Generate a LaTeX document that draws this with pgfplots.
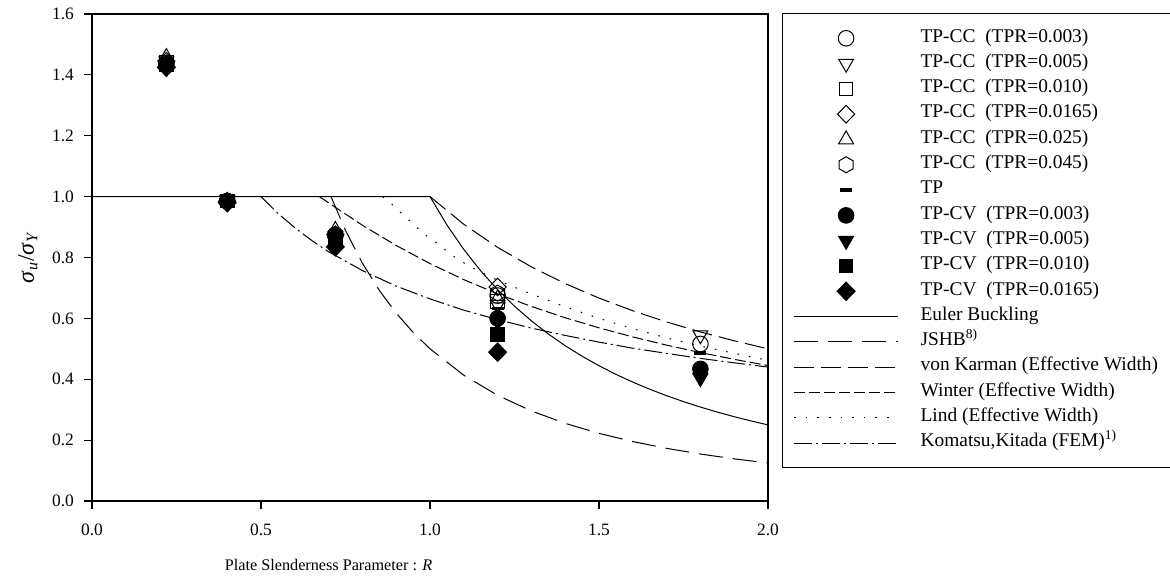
\documentclass[border=0pt]{standalone}
\usepackage{fontspec}
\setmainfont{Liberation Serif}
\usepackage{pgfplots}
\pgfplotsset{compat=1.18}
\usetikzlibrary{plotmarks}

\pgfdeclareplotmark{hexagon}{%
  \pgfpathmoveto{\pgfpointpolar{90}{\pgfplotmarksize}}%
  \pgfpathlineto{\pgfpointpolar{150}{\pgfplotmarksize}}%
  \pgfpathlineto{\pgfpointpolar{210}{\pgfplotmarksize}}%
  \pgfpathlineto{\pgfpointpolar{270}{\pgfplotmarksize}}%
  \pgfpathlineto{\pgfpointpolar{330}{\pgfplotmarksize}}%
  \pgfpathlineto{\pgfpointpolar{30}{\pgfplotmarksize}}%
  \pgfpathclose
  \pgfusepathqstroke
}

\begin{document}
\begin{tikzpicture}
\begin{axis}[
  name=ax,
  at={(0,0)}, anchor=south west,
  scale only axis, width=338pt, height=243.5pt,
  xmin=0, xmax=2, ymin=0, ymax=1.6,
  xtick={0,0.5,1,1.5,2},
  ytick={0,0.2,0.4,0.6,0.8,1.0,1.2,1.4,1.6},
  xticklabels={0.0,0.5,1.0,1.5,2.0},
  yticklabels={0.0,0.2,0.4,0.6,0.8,1.0,1.2,1.4,1.6},
  tick pos=left, tick align=outside, major tick length=4pt,
  axis line style={line width=0.7pt},
  tick style={line width=0.6pt, black},
  ticklabel style={font=\fontsize{8.7}{10}\selectfont},
  xticklabel style={yshift=-4pt},
  yticklabel style={xshift=-1.5pt},
  xlabel={Plate Slenderness Parameter : \textit{R}},
  xlabel style={at={(axis description cs:0.350,0)}, anchor=center, yshift=-32pt, font=\fontsize{8.1}{9.5}\selectfont},
  ylabel={\textit{σ}\textsubscript{\textit{u}}/\textit{σ}\textsubscript{\textit{Y}}},
  ylabel style={at={(axis description cs:-0.095,0.5)}, anchor=center, font=\fontsize{12}{14}\selectfont},
  legend image code/.code={\draw[mark repeat=2,mark phase=2,#1] plot coordinates {(0pt,0pt) (26pt,0pt) (52pt,0pt)};},
  legend style={at={(1.0207,1.002)}, anchor=north west, draw=black, line width=0.6pt,
    font=\fontsize{9.7}{11}\selectfont, inner xsep=5.5pt, inner ysep=6pt, row sep=0pt,
    nodes={inner sep=0pt, text height=8.2pt, text depth=4.45pt},
    cells={anchor=west},
    /tikz/every odd column/.append style={column sep=11pt}},
  every axis plot/.append style={black, line width=0.5pt},
]
% ---- curves (drawn first, legend entries added later) ----
\addplot[solid, forget plot] coordinates {
(0,1) (1,1) (1.05,0.9070) (1.1,0.8264) (1.15,0.7561) (1.2,0.6944) (1.25,0.64) (1.3,0.5917)
(1.35,0.5487) (1.4,0.5102) (1.45,0.4756) (1.5,0.4444) (1.55,0.4162) (1.6,0.3906) (1.65,0.3673)
(1.7,0.3460) (1.75,0.3265) (1.8,0.3086) (1.85,0.2922) (1.9,0.2770) (1.95,0.2630) (2.0,0.25)};
\addplot[dash pattern=on 12pt off 5pt, forget plot] coordinates {
(0.7071,1.0) (0.75,0.8889) (0.8,0.7813) (0.85,0.6920) (0.9,0.6173) (0.95,0.5540) (1.0,0.5)
(1.1,0.4132) (1.2,0.3472) (1.3,0.2959) (1.4,0.2551) (1.5,0.2222) (1.6,0.1953) (1.7,0.1730)
(1.8,0.1543) (1.9,0.1385) (2.0,0.125)};
\addplot[dash pattern=on 10pt off 3.5pt, forget plot] coordinates {
(1.0,1.0) (1.1,0.9091) (1.2,0.8333) (1.3,0.7692) (1.4,0.7143) (1.5,0.6667) (1.6,0.625)
(1.7,0.5882) (1.8,0.5556) (1.9,0.5263) (2.0,0.5)};
\addplot[dash pattern=on 5.5pt off 2pt, forget plot] coordinates {
(0.673,1.0) (0.7,0.9796) (0.8,0.906) (0.9,0.8395) (1.0,0.78) (1.1,0.7273) (1.2,0.6806)
(1.3,0.6391) (1.4,0.602) (1.5,0.5689) (1.6,0.5391) (1.7,0.5121) (1.8,0.4877) (1.9,0.4654) (2.0,0.445)};
\addplot[dash pattern=on 0.8pt off 5pt, forget plot] coordinates {
(0.86,1.0) (0.88,0.983) (0.916,0.945) (0.98,0.879) (1.015,0.852) (1.064,0.808) (1.118,0.77)
(1.2,0.725) (1.3,0.68) (1.4,0.638) (1.5,0.6) (1.6,0.566) (1.7,0.536) (1.8,0.509) (1.9,0.485) (2.0,0.462)};
\addplot[dash pattern=on 9pt off 2pt on 1pt off 2pt, forget plot] coordinates {
(0.5,1.0) (0.55,0.945) (0.6,0.898) (0.65,0.856) (0.7,0.819) (0.8,0.757) (0.9,0.706) (1.0,0.664)
(1.1,0.627) (1.2,0.596) (1.3,0.568) (1.4,0.544) (1.5,0.522) (1.6,0.502) (1.7,0.485)
(1.8,0.4685) (1.9,0.454) (2.0,0.44)};
% ---- experimental points ----
\addplot[only marks, mark=o, mark size=3.9pt] coordinates {
(0.22,1.44) (0.40,0.985) (0.72,0.875) (1.20,0.675) (1.80,0.516)};
\addlegendentry{TP-CC\ \ (TPR=0.003)}
\addplot[only marks, mark=triangle, mark size=4.3pt, mark options={rotate=180}] coordinates {
(0.22,1.445) (0.40,0.99) (0.72,0.87) (1.20,0.645) (1.80,0.545)};
\addlegendentry{TP-CC\ \ (TPR=0.005)}
\addplot[only marks, mark=square, mark size=3.4pt] coordinates {
(0.22,1.44) (0.40,0.985) (0.72,0.865) (1.20,0.655)};
\addlegendentry{TP-CC\ \ (TPR=0.010)}
\addplot[only marks, mark=diamond, mark size=4.4pt, mark options={xscale=1.3}] coordinates {
(0.22,1.445) (0.40,0.985) (0.72,0.875) (1.20,0.703)};
\addlegendentry{TP-CC\ \ (TPR=0.0165)}
\addplot[only marks, mark=triangle, mark size=4.3pt] coordinates {
(0.22,1.458) (0.72,0.89) (1.20,0.665)};
\addlegendentry{TP-CC\ \ (TPR=0.025)}
\addplot[only marks, mark=hexagon, mark size=4pt] coordinates {
(1.20,0.683)};
\addlegendentry{TP-CC\ \ (TPR=0.045)}
\addplot[only marks, mark=-, mark size=3pt, mark options={line width=1.8pt}] coordinates {
(0.22,1.44) (0.72,0.88) (1.20,0.632) (1.80,0.486)};
\addlegendentry{TP}
\addplot[only marks, mark=*, mark size=3.9pt, fill=black] coordinates {
(0.22,1.435) (0.40,0.985) (0.72,0.872) (1.20,0.60) (1.80,0.434)};
\addlegendentry{TP-CV\ \ (TPR=0.003)}
\addplot[only marks, mark=triangle*, mark size=4.3pt, fill=black, mark options={rotate=180}] coordinates {
(0.22,1.43) (0.40,0.98) (0.72,0.86) (1.20,0.59) (1.80,0.404)};
\addlegendentry{TP-CV\ \ (TPR=0.005)}
\addplot[only marks, mark=square*, mark size=3.4pt, fill=black] coordinates {
(0.22,1.432) (0.40,0.985) (0.72,0.858) (1.20,0.548)};
\addlegendentry{TP-CV\ \ (TPR=0.010)}
\addplot[only marks, mark=diamond*, mark size=4.6pt, fill=black, mark options={xscale=1.3}] coordinates {
(0.22,1.425) (0.40,0.98) (0.72,0.835) (1.20,0.489)};
\addlegendentry{TP-CV\ \ (TPR=0.0165)}
% ---- legend entries for the curves ----
\addlegendimage{solid, line width=0.5pt, black}
\addlegendentry{Euler Buckling}
\addlegendimage{dash pattern=on 12pt off 5pt, line width=0.5pt, black}
\addlegendentry{JSHB\textsuperscript{8)}}
\addlegendimage{dash pattern=on 10pt off 3.5pt, line width=0.5pt, black}
\addlegendentry{von Karman (Effective Width)\hspace*{4pt}}
\addlegendimage{dash pattern=on 5.5pt off 2pt, line width=0.5pt, black}
\addlegendentry{Winter (Effective Width)}
\addlegendimage{dash pattern=on 0.8pt off 5pt, line width=0.5pt, black}
\addlegendentry{Lind (Effective Width)}
\addlegendimage{dash pattern=on 9pt off 2pt on 1pt off 2pt, line width=0.5pt, black}
\addlegendentry{Komatsu,Kitada (FEM)\textsuperscript{1)}}
\end{axis}
\pgfresetboundingbox
\path[use as bounding box] (-46pt,-41.5pt) rectangle (539pt,250.5pt);
\end{tikzpicture}
\end{document}
